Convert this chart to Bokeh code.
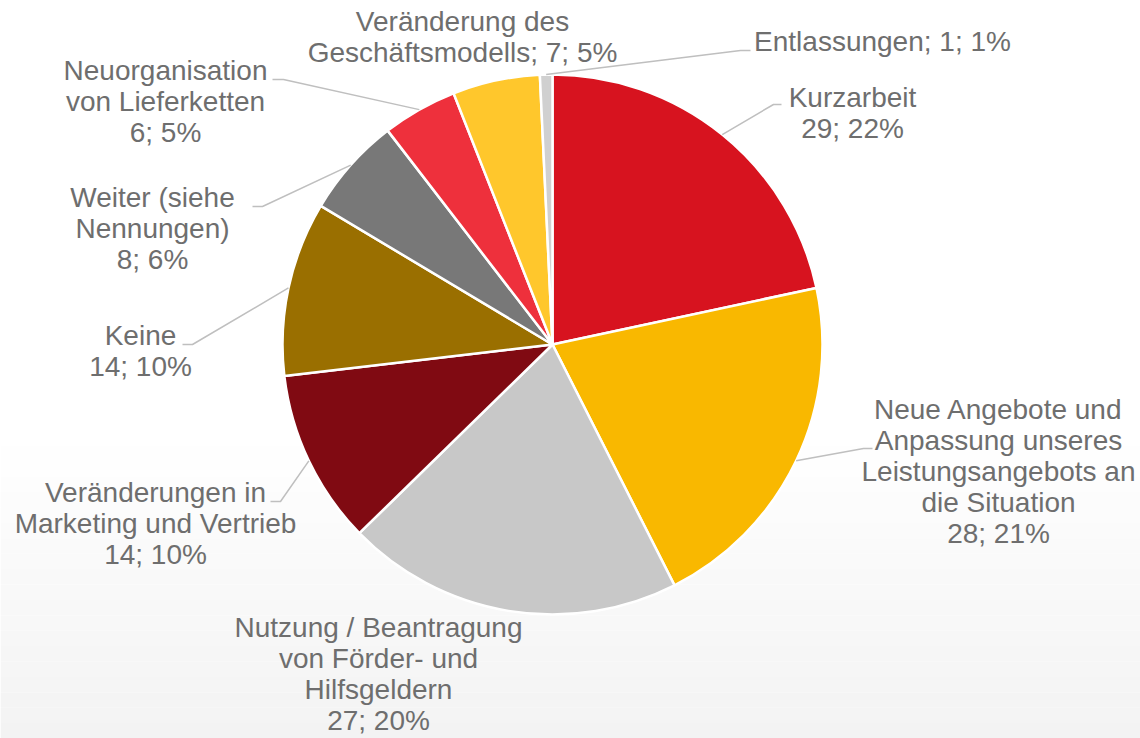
import numpy as np
from bokeh.plotting import figure
from bokeh.models import Range1d, ColumnDataSource
from bokeh.core.properties import value
from bokeh.embed import file_html
from bokeh.resources import INLINE

# ---------------- data ----------------
categories = ["Kurzarbeit",
              "Neue Angebote und Anpassung unseres Leistungsangebots an die Situation",
              "Nutzung / Beantragung von Förder- und Hilfsgeldern",
              "Veränderungen in Marketing und Vertrieb",
              "Keine",
              "Weiter (siehe Nennungen)",
              "Neuorganisation von Lieferketten",
              "Veränderung des Geschäftsmodells",
              "Entlassungen"]
counts = [29, 28, 27, 14, 14, 8, 6, 7, 1]
percents = ["22%", "21%", "20%", "10%", "10%", "6%", "5%", "5%", "1%"]
colors = ["#D7131F", "#F9B800", "#C8C8C8", "#800A12", "#9A6F00",
          "#787878", "#EE303C", "#FFC72C", "#D0D0D0"]

# ---------------- layout (page pixels) ----------------
name_lines = [["Kurzarbeit"],
              ["Neue Angebote und", "Anpassung unseres", "Leistungsangebots an", "die Situation"],
              ["Nutzung / Beantragung", "von Förder- und", "Hilfsgeldern"],
              ["Veränderungen in", "Marketing und Vertrieb"],
              ["Keine"],
              ["Weiter (siehe", "Nennungen)"],
              ["Neuorganisation", "von Lieferketten"],
              ["Veränderung des", "Geschäftsmodells"],
              ["Entlassungen"]]
value_inline = [False, False, False, False, False, False, False, True, True]
label_pos = [(852, 97), (998, 409), (378, 627), (155, 492), (140, 335),
             (152, 197), (165, 70), (462, 21), (882, 41)]
line_step = 31.0
leader_pts = [[(773, 104), (781, 104)], [(863, 448), (872, 448)], None,
              [(280, 501), (270, 501)], [(192, 344), (182, 344)],
              [(262, 206), (252, 206)], [(283, 79), (272, 79)], None,
              [(740, 50), (750, 50)]]
CX, CY, R = 552, 344, 270
W, H = 1140, 738


def Y(yp):
    return H - yp


p = figure(width=W, height=H, x_range=Range1d(0, W), y_range=Range1d(0, H),
           output_backend="svg", toolbar_location=None, min_border=0)
p.axis.visible = False
p.grid.visible = False
p.outline_line_color = None
p.background_fill_color = "#FFFFFF"
p.border_fill_color = "#FFFFFF"

# subtle background gradient at bottom
nb = 20
g_top, g_bot = 430, 738
edges = np.linspace(g_top, g_bot, nb + 1)
gcols = []
for i in range(nb):
    c = int(round(255 - (255 - 243) * (i + 0.5) / nb))
    gcols.append("#%02x%02x%02x" % (c, c, c))
p.quad(left=0, right=W, top=[Y(e) for e in edges[:-1]], bottom=[Y(e) for e in edges[1:]],
       fill_color=gcols, line_color=None)

# wedges
total = sum(counts)
cum = np.concatenate([[0], np.cumsum(counts)])
starts = np.pi / 2 - 2 * np.pi * cum[1:] / total
ends = np.pi / 2 - 2 * np.pi * cum[:-1] / total
src = ColumnDataSource(dict(start=starts, end=ends, color=colors, cat=categories))
p.wedge(x=CX, y=Y(CY), radius=R, start_angle="start", end_angle="end",
        fill_color="color", line_color="white", line_width=2.5, source=src)

# leader lines
mids = (cum[:-1] + cum[1:]) / 2 / total * 2 * np.pi
for i, pts in enumerate(leader_pts):
    if pts is None:
        continue
    sx = CX + R * np.sin(mids[i])
    sy = CY - R * np.cos(mids[i])
    xs = [sx] + [q[0] for q in pts]
    ys = [Y(sy)] + [Y(q[1]) for q in pts]
    p.line(xs, ys, line_color="#BFBFBF", line_width=1.5)

# labels
tx, ty, tt = [], [], []
for i, lines in enumerate(name_lines):
    vtxt = f"{counts[i]}; {percents[i]}"
    if value_inline[i]:
        full = lines[:-1] + [lines[-1] + "; " + vtxt]
    else:
        full = lines + [vtxt]
    x0, y0 = label_pos[i]
    for k, t in enumerate(full):
        tx.append(x0)
        ty.append(Y(y0 + k * line_step))
        tt.append(t)
p.text(x=tx, y=ty, text=tt, text_align="center", text_baseline="middle",
       text_font=value("Liberation Sans"), text_font_size="28px", text_color="#6E6E6E")

open("out.html", "w").write(file_html(p, INLINE))
